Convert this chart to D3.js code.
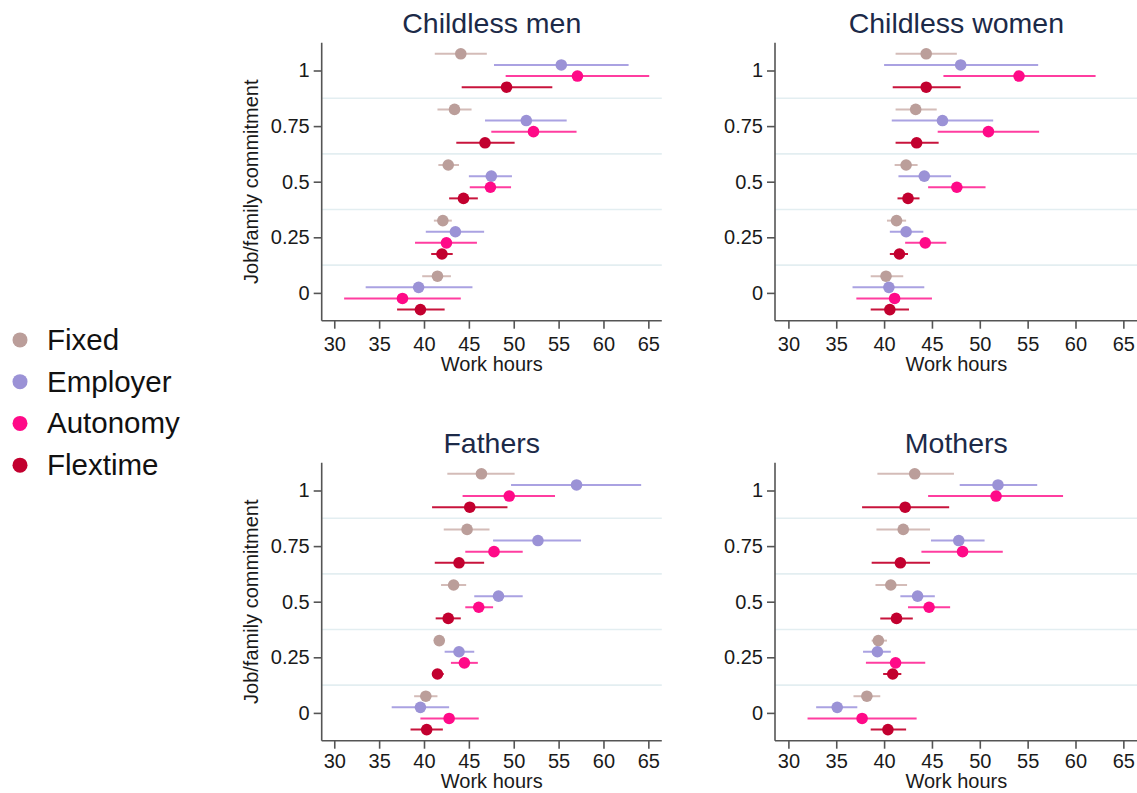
<!DOCTYPE html>
<html>
<head>
<meta charset="utf-8">
<script src="https://cdn.jsdelivr.net/npm/d3@7"></script>
<style>
  html, body { margin: 0; padding: 0; background: #fff; }
  svg { display: block; font-family: "Liberation Sans", Arial, sans-serif; }
</style>
</head>
<body>
<div id="chart"></div>
<script>
// series and levels
const seriesNames = ["Fixed", "Employer", "Autonomy", "Flextime"];
const seriesColors = ["#bb9e9a", "#9b92d6", "#ff0a88", "#c2002f"];
const lineColors = ["#d4bcb8", "#aaa2e2", "#ff3da0", "#c8143c"];
const levels = [1, 0.75, 0.5, 0.25, 0];
const yTicks = [0, 0.25, 0.5, 0.75, 1];
const yTickLabels = ["0", "0.25", "0.5", "0.75", "1"];
const xTicks = [30, 35, 40, 45, 50, 55, 60, 65];
const gridLevels = [0.875, 0.625, 0.375, 0.125];

// [estimate, lower, upper] per level (1, .75, .5, .25, 0)
const childlessMen = {
  Fixed:    [[44.1, 41.2, 47.0], [43.4, 41.5, 45.3], [42.7, 41.6, 43.9], [42.1, 41.1, 43.1], [41.5, 39.8, 43.0]],
  Employer: [[55.3, 47.8, 62.8], [51.4, 46.8, 55.9], [47.5, 45.0, 49.8], [43.5, 40.2, 46.7], [39.4, 33.5, 45.4]],
  Autonomy: [[57.1, 49.1, 65.1], [52.2, 47.5, 57.0], [47.4, 45.1, 49.7], [42.5, 39.0, 45.9], [37.6, 31.1, 44.1]],
  Flextime: [[49.2, 44.2, 54.3], [46.8, 43.6, 50.1], [44.4, 42.8, 46.0], [42.0, 40.8, 43.2], [39.6, 37.0, 42.3]]
};
const childlessWomen = {
  Fixed:    [[44.4, 41.2, 47.6], [43.3, 41.2, 45.5], [42.3, 41.1, 43.5], [41.3, 40.3, 42.3], [40.2, 38.6, 42.0]],
  Employer: [[48.0, 40.0, 56.1], [46.1, 40.8, 51.4], [44.2, 41.5, 47.0], [42.3, 40.6, 44.1], [40.5, 36.7, 44.2]],
  Autonomy: [[54.1, 46.2, 62.1], [50.9, 45.6, 56.2], [47.6, 44.6, 50.6], [44.3, 42.2, 46.5], [41.1, 37.1, 45.0]],
  Flextime: [[44.4, 40.9, 48.0], [43.4, 41.2, 45.7], [42.5, 41.4, 43.7], [41.6, 40.6, 42.5], [40.6, 38.6, 42.6]]
};
const fathers = {
  Fixed:    [[46.4, 42.6, 50.1], [44.8, 42.2, 47.3], [43.3, 41.9, 44.7], [41.7, 41.1, 42.3], [40.2, 38.9, 41.5]],
  Employer: [[57.0, 49.7, 64.2], [52.7, 47.7, 57.5], [48.3, 45.6, 51.0], [43.9, 42.3, 45.6], [39.6, 36.4, 42.8]],
  Autonomy: [[49.5, 44.3, 54.6], [47.8, 44.6, 51.0], [46.1, 44.6, 47.7], [44.5, 43.0, 46.0], [42.8, 39.6, 46.1]],
  Flextime: [[45.1, 40.9, 49.3], [43.9, 41.2, 46.7], [42.7, 41.3, 44.1], [41.5, 40.9, 42.2], [40.3, 38.5, 42.1]]
};
const mothers = {
  Fixed:    [[43.2, 39.3, 47.3], [42.0, 39.2, 44.8], [40.7, 39.1, 42.4], [39.4, 38.7, 40.3], [38.2, 36.8, 39.6]],
  Employer: [[51.9, 47.9, 56.0], [47.8, 44.9, 50.5], [43.5, 41.7, 45.3], [39.3, 37.8, 40.7], [35.1, 32.9, 37.2]],
  Autonomy: [[51.7, 44.6, 58.7], [48.2, 43.9, 52.4], [44.7, 42.5, 46.9], [41.2, 38.1, 44.3], [37.7, 32.0, 43.4]],
  Flextime: [[42.2, 37.7, 46.8], [41.7, 38.7, 44.8], [41.3, 39.6, 43.0], [40.9, 39.9, 41.8], [40.4, 38.6, 42.3]]
};

const panelTitles = ["Childless men", "Childless women", "Fathers", "Mothers"];
const panelData = [childlessMen, childlessWomen, fathers, mothers];

const W = 1137, H = 793;
const svg = d3.select("#chart").append("svg").attr("width", W).attr("height", H);

// panel geometry (axis frame); bottom row squeezed a bit at the page edge
const panelBoxes = [
  { x0: 321.7, x1: 661.8, y0: 42.7, y1: 320.7, yLabel: true, pad: 8, lab: 50 },
  { x0: 775, x1: 1137.7, y0: 42.7, y1: 320.7, yLabel: false, pad: 8, lab: 50 },
  { x0: 321.7, x1: 661.8, y0: 462.7, y1: 740.7, yLabel: true, pad: 5, lab: 47.5 },
  { x0: 775, x1: 1137.7, y0: 462.7, y1: 740.7, yLabel: false, pad: 5, lab: 47.5 }
];
const offsets = [0.075, 0.025, -0.025, -0.075];

panelBoxes.forEach((b, i) => {
  const data = panelData[i];
  const x = d3.scaleLinear().domain([28.6, 66.5]).range([b.x0, b.x1]);
  const y = d3.scaleLinear().domain([-0.125, 1.125]).range([b.y1, b.y0]);
  const g = svg.append("g");

  // light separators
  g.selectAll("line.grid").data(gridLevels).enter().append("line")
    .attr("class", "grid")
    .attr("x1", b.x0).attr("x2", b.x1)
    .attr("y1", d => y(d)).attr("y2", d => y(d))
    .attr("stroke", "#e3eef1").attr("stroke-width", 1.6);

  // axes
  const xAxis = d3.axisBottom(x).tickValues(xTicks).tickSize(8).tickPadding(b.pad);
  const gx = g.append("g").attr("transform", "translate(0," + b.y1 + ")").call(xAxis);
  const yAxis = d3.axisLeft(y).tickValues(yTicks).tickSize(8).tickPadding(4)
    .tickFormat((d, k) => yTickLabels[k]);
  const gy = g.append("g").attr("transform", "translate(" + b.x0 + ",0)").call(yAxis);
  [gx, gy].forEach(a => {
    a.select(".domain").attr("stroke", "#555").attr("stroke-width", 1.6);
    a.selectAll(".tick line").attr("stroke", "#555").attr("stroke-width", 1.6);
    a.selectAll(".tick text").attr("fill", "#1a1a1a").style("font-size", "20px");
  });
  gx.select(".domain").attr("d", "M" + b.x0 + ",0H" + b.x1);
  gy.select(".domain").attr("d", "M0," + b.y1 + "V" + b.y0);

  // title
  g.append("text")
    .attr("x", (b.x0 + b.x1) / 2).attr("y", b.y0 - 9.5)
    .attr("text-anchor", "middle")
    .attr("fill", "#1c2a48")
    .style("font-size", "28.5px")
    .text(panelTitles[i]);

  g.append("text")
    .attr("x", (b.x0 + b.x1) / 2).attr("y", b.y1 + b.lab)
    .attr("text-anchor", "middle")
    .attr("fill", "#1a1a1a")
    .style("font-size", "20px")
    .text("Work hours");

  if (b.yLabel) {
    g.append("text")
      .attr("transform", "translate(" + (b.x0 - 64) + "," + ((b.y0 + b.y1) / 2) + ") rotate(-90)")
      .attr("text-anchor", "middle")
      .attr("fill", "#1a1a1a")
      .style("font-size", "20px")
      .text("Job/family commitment");
  }

  // error bars and points
  seriesNames.forEach((s, si) => {
    const rows = data[s].map((r, li) => ({ lev: levels[li] + offsets[si], est: r[0], lo: r[1], hi: r[2] }));
    g.selectAll("line.ci" + si).data(rows).enter().append("line")
      .attr("x1", d => x(d.lo)).attr("x2", d => x(d.hi))
      .attr("y1", d => y(d.lev)).attr("y2", d => y(d.lev))
      .attr("stroke", lineColors[si]).attr("stroke-width", 2);
    g.selectAll("circle.pt" + si).data(rows).enter().append("circle")
      .attr("cx", d => x(d.est)).attr("cy", d => y(d.lev))
      .attr("r", 5.8).attr("fill", seriesColors[si]);
  });
});

// legend
const legend = svg.append("g");
const legendY = d3.scaleBand().domain(seriesNames).range([319, 486]);
seriesNames.forEach((s, si) => {
  const cy = legendY(s) + legendY.bandwidth() / 2;
  legend.append("circle").attr("cx", 20).attr("cy", cy).attr("r", 7.5).attr("fill", seriesColors[si]);
  legend.append("text").attr("x", 47).attr("y", cy + 10)
    .attr("fill", "#111").style("font-size", "29.5px").text(s);
});
</script>
</body>
</html>
